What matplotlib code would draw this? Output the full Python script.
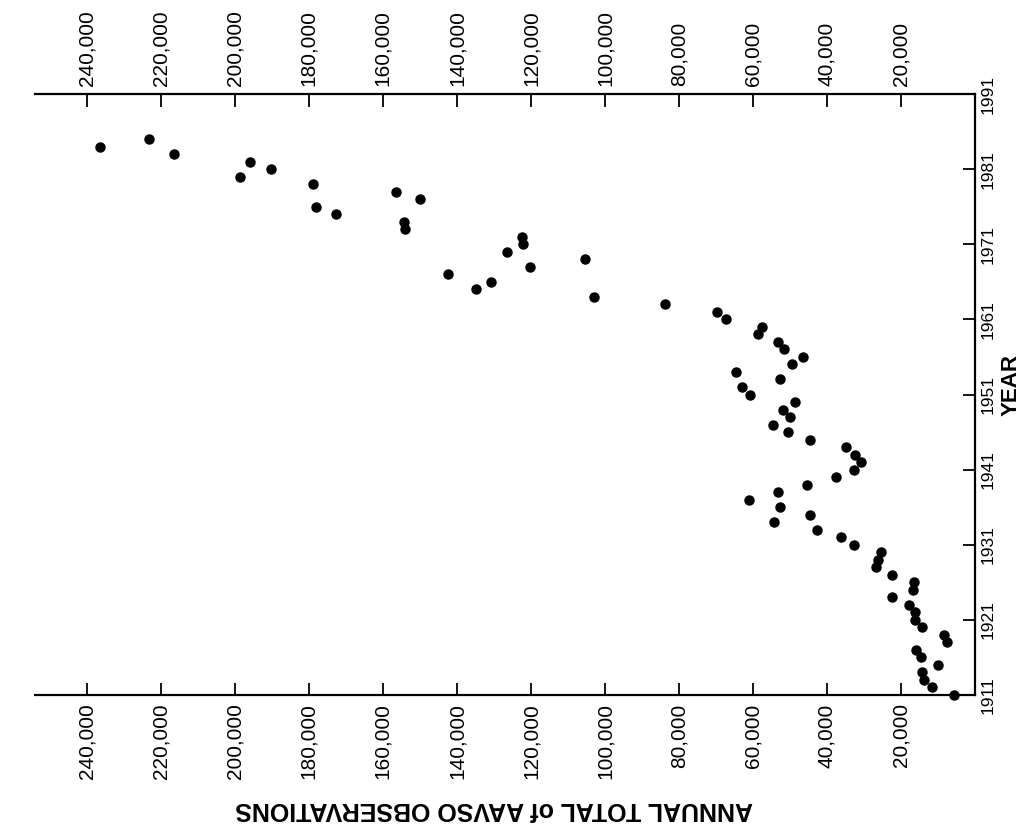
import numpy as np
import matplotlib.pyplot as plt

years = np.arange(1911, 1986)
totals = [5760, 11600, 13700, 14400, 9900, 14600, 15900, 7600, 8300, 14400,
          16100, 16100, 17800, 22500, 16800, 16400, 22500, 26800, 26100, 25400,
          32600, 36200, 42600, 54200, 44700, 52700, 61000, 53300, 45400, 37500,
          32800, 30700, 32500, 34800, 44500, 50400, 54600, 50000, 51900, 48600,
          60700, 62900, 52600, 64600, 49500, 46600, 51500, 53200, 58700, 57500,
          67400, 69800, 83800, 103000, 134800, 130900, 142400, 120200, 105400, 126500,
          122100, 122500, 153900, 154400, 172600, 178100, 150000, 156400, 178800, 198500,
          190100, 195800, 216500, 236500, 223100]
obs_ticks = [20000, 40000, 60000, 80000, 100000, 120000, 140000, 160000, 180000, 200000, 220000, 240000]
year_ticks = [1911, 1921, 1931, 1941, 1951, 1961, 1971, 1981, 1991]

plt.rcParams['font.family'] = ['Liberation Sans', 'DejaVu Sans']

fig = plt.figure(figsize=(10.29, 8.35), dpi=100)
ax = fig.add_axes([35/1029, 1 - 695/835, (975 - 35)/1029, (695 - 94)/835])

# chart is printed turned on its side: totals run right-to-left, years bottom-to-top
ax.plot(totals, years, 'o', color='black', ms=6.5, mec='black', clip_on=False)

ax.set_xlim(254000, 0)
ax.set_ylim(1911, 1991)

ax.set_xticks(obs_ticks)
ax.set_xticklabels([f'{v:,}' for v in obs_ticks])
ax.tick_params(axis='x', which='both', direction='in', length=9, width=1.3,
               top=True, labeltop=True, bottom=True, labelbottom=True,
               labelrotation=90, labelsize=15, pad=6)

ax.set_yticks(year_ticks)
ax.yaxis.tick_right()
ax.tick_params(axis='y', direction='in', length=9, width=1.3, labelsize=12.5,
               labelrotation=90, pad=4)
for lab in ax.get_yticklabels():
    lab.set_verticalalignment('center')

for side in ['top', 'bottom', 'right']:
    ax.spines[side].set_linewidth(1.6)
ax.spines['left'].set_visible(False)

ax.text(0.488, -0.19, 'ANNUAL TOTAL of AAVSO OBSERVATIONS', transform=ax.transAxes,
        rotation=180, ha='center', va='center', fontsize=18, fontweight='bold')
ax.text(1.038, 0.515, 'YEAR', transform=ax.transAxes, rotation=90,
        ha='center', va='center', fontsize=16, fontweight='bold')

plt.savefig('out.png', dpi=100)
